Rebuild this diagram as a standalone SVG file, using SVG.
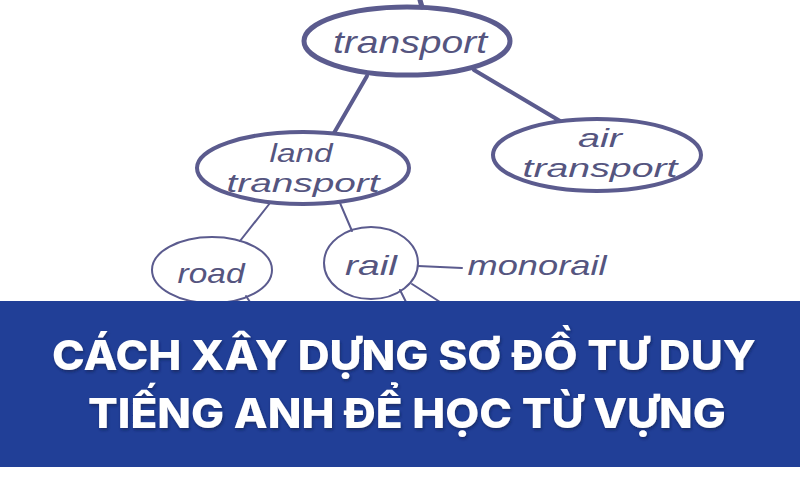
<svg xmlns="http://www.w3.org/2000/svg" width="800" height="500" viewBox="0 0 800 500">
<defs>
<style>
.ink{fill:none;stroke:#5b5b8e;stroke-linecap:round}
.thick{stroke-width:5}
.mid{stroke-width:4}
.thin{stroke-width:2}
.lbl{font-family:"Liberation Sans","Arial",sans-serif;font-style:italic;fill:#55557f;text-anchor:middle}
.title{font-family:"Inter","Open Sans",sans-serif;font-weight:800;fill:#ffffff;text-anchor:middle;font-size:41px}
</style>
<filter id="sh" x="-5%" y="-20%" width="110%" height="140%">
<feDropShadow dx="1" dy="2" stdDeviation="1.5" flood-color="#0a1a4a" flood-opacity="0.6"/>
</filter>
</defs>
<rect width="800" height="500" fill="#ffffff"/>
<g id="connectors">
<line class="ink thick" x1="420" y1="0" x2="422" y2="7"/>
<line class="ink mid" x1="367" y1="76" x2="334" y2="133"/>
<line class="ink mid" x1="474" y1="70" x2="560" y2="121"/>
<line class="ink thin" x1="270" y1="203" x2="240" y2="241"/>
<line class="ink thin" x1="340" y1="203" x2="352" y2="231"/>
<line class="ink thin" x1="418" y1="266" x2="462" y2="268"/>
<line class="ink thin" x1="400" y1="290" x2="406" y2="302"/>
<line class="ink thin" x1="412" y1="284" x2="440" y2="302"/>
<line class="ink thin" x1="246" y1="296" x2="250" y2="302"/>
</g>
<g id="node-transport">
<ellipse class="ink thick" cx="407" cy="41" rx="103" ry="34"/>
<text class="lbl" x="410" y="53" font-size="32" textLength="154" lengthAdjust="spacingAndGlyphs">transport</text>
</g>
<g id="node-land-transport">
<ellipse class="ink mid" cx="303" cy="168" rx="106" ry="36"/>
<text class="lbl" x="301" y="162" font-size="26" textLength="63" lengthAdjust="spacingAndGlyphs">land</text>
<text class="lbl" x="303" y="192" font-size="26" textLength="153" lengthAdjust="spacingAndGlyphs">transport</text>
</g>
<g id="node-air-transport">
<ellipse class="ink mid" cx="597" cy="155" rx="104" ry="36"/>
<text class="lbl" x="600" y="147" font-size="26" textLength="44" lengthAdjust="spacingAndGlyphs">air</text>
<text class="lbl" x="600" y="177" font-size="26" textLength="155" lengthAdjust="spacingAndGlyphs">transport</text>
</g>
<g id="node-road">
<ellipse class="ink thin" cx="212" cy="270" rx="60" ry="33"/>
<text class="lbl" x="211" y="283" font-size="28" textLength="67" lengthAdjust="spacingAndGlyphs">road</text>
</g>
<g id="node-rail">
<ellipse class="ink thin" cx="371" cy="263" rx="47" ry="36"/>
<text class="lbl" x="371" y="275" font-size="28" textLength="52" lengthAdjust="spacingAndGlyphs">rail</text>
</g>
<g id="node-monorail">
<text class="lbl" x="537" y="275" font-size="28" textLength="139" lengthAdjust="spacingAndGlyphs">monorail</text>
</g>
<rect x="0" y="301" width="800" height="166" fill="#213f97"/>
<g filter="url(#sh)">
<text class="title" x="404" y="370" textLength="704" lengthAdjust="spacingAndGlyphs">CÁCH XÂY DỰNG SƠ ĐỒ TƯ DUY</text>
<text class="title" x="407" y="428" textLength="638" lengthAdjust="spacingAndGlyphs">TIẾNG ANH ĐỂ HỌC TỪ VỰNG</text>
</g>
</svg>
